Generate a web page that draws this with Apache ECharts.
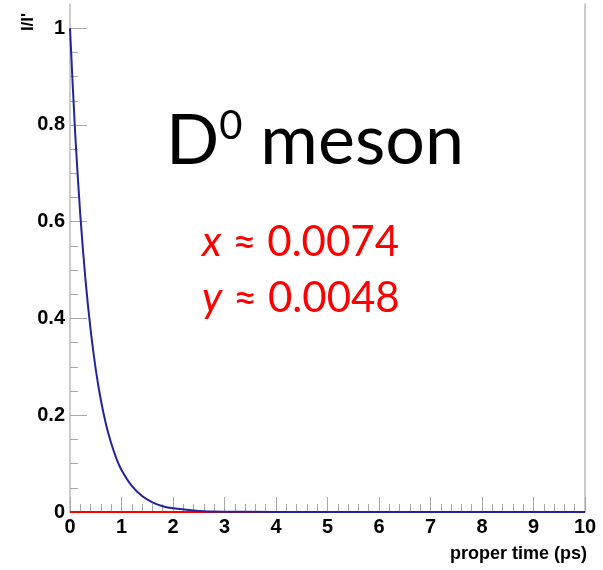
<!DOCTYPE html>
<html>
<head>
<meta charset="utf-8">
<script src="https://cdn.jsdelivr.net/npm/echarts@6/dist/echarts.min.js"></script>
<style>
html, body { margin: 0; padding: 0; background: #fff; }
#chart { width: 603px; height: 570px; }
</style>
</head>
<body>
<div id="chart"></div>
<script>
// proper time (ps) and I/I'
var timePs = [0, 0.1, 0.2, 0.3, 0.4, 0.5, 0.6, 0.7, 0.8, 0.9, 1.0, 1.2, 1.4, 1.6, 1.8, 2.0, 2.5, 3.0, 4.0, 5.0, 10.0];
var ratioD0 = [1.0, 0.784, 0.614, 0.481, 0.377, 0.295, 0.231, 0.181, 0.142, 0.111, 0.087, 0.054, 0.033, 0.020, 0.012, 0.0076, 0.0022, 0.0007, 0.0001, 0, 0];
// red curve, sits on zero over whole range
var mixTime = [0, 10];
var mixValue = [0, 0];

var yMajor = [0, 0.2, 0.4, 0.6, 0.8, 1];
var yMinor = [0.05, 0.1, 0.15, 0.25, 0.3, 0.35, 0.45, 0.5, 0.55, 0.65, 0.7, 0.75, 0.85, 0.9, 0.95];

var titleText = "meson";
var mixX = "0.0074";
var mixY = "0.0048";

var chart = echarts.init(document.getElementById("chart"));

function zip(a, b) {
	var out = [];
	for (var i = 0; i < a.length; i++) out.push([a[i], b[i]]);
	return out;
}

var axisGray = "#bdbdbd";
var tickGray = "#a8a8a8";
var labelFont = {
	color: "#000",
	fontFamily: "Liberation Sans",
	fontWeight: "bold",
	fontSize: 20
};

var option = {
	animation: false,
	grid: { left: 70, right: 18, top: 4, bottom: 58 },
	xAxis: [{
		type: "value",
		min: 0,
		max: 10,
		interval: 1,
		axisLine: { lineStyle: { color: axisGray, width: 1.5 } },
		axisTick: { inside: true, length: 15, lineStyle: { color: tickGray } },
		minorTick: { show: true, splitNumber: 5, length: 8, lineStyle: { color: tickGray } },
		axisLabel: Object.assign({ margin: 5 }, labelFont),
		splitLine: { show: false }
	}],
	yAxis: [{
		type: "value",
		min: 0,
		max: 1.05,
		position: "left",
		axisLine: { show: true, lineStyle: { color: axisGray, width: 1.5 } },
		axisTick: { inside: true, length: 17, customValues: yMajor, lineStyle: { color: tickGray } },
		axisLabel: Object.assign({ margin: 5, customValues: yMajor }, labelFont),
		splitLine: { show: false }
	}, {
		type: "value",
		min: 0,
		max: 1.05,
		position: "left",
		axisLine: { show: false },
		axisTick: { inside: true, length: 8, customValues: yMinor, lineStyle: { color: tickGray } },
		axisLabel: { show: false },
		splitLine: { show: false }
	}, {
		type: "value",
		min: 0,
		max: 1.05,
		position: "right",
		axisLine: { show: true, lineStyle: { color: axisGray, width: 1.5 } },
		axisTick: { show: false },
		axisLabel: { show: false },
		splitLine: { show: false }
	}],
	series: [{
		name: "mix",
		type: "line",
		data: zip(mixTime, mixValue),
		showSymbol: false,
		lineStyle: { color: "#ff0000", width: 2 },
		z: 3
	}, {
		name: "D0",
		type: "line",
		data: zip(timePs, ratioD0),
		smooth: 0.3,
		showSymbol: false,
		lineStyle: { color: "#23239c", width: 2 },
		z: 4
	}],
	graphic: [{
		type: "text",
		x: 28,
		y: 22,
		rotation: Math.PI / 2,
		style: {
			text: "I/I'",
			fontFamily: "Liberation Sans",
			fontWeight: "bold",
			fontSize: 17,
			fill: "#000",
			textAlign: "center",
			textVerticalAlign: "middle"
		}
	}, {
		type: "text",
		right: 16,
		top: 545,
		style: {
			text: "proper time (ps)",
			fontFamily: "Liberation Sans",
			fontWeight: "bold",
			fontSize: 18,
			fill: "#000"
		}
	}, {
		type: "text",
		x: 166,
		y: 106,
		style: {
			text: "D{s|0} " + titleText,
			fontFamily: "Lato",
			fontSize: 70,
			fill: "#000",
			rich: {
				s: { fontFamily: "Lato", fontSize: 40, verticalAlign: "top", fill: "#000", padding: [0, 0, 30, 0] }
			}
		}
	}, {
		type: "text",
		x: 202,
		y: 214,
		style: {
			text: "{i|x} \u2248 " + mixX + "\n{i|y} \u2248 " + mixY,
			fontFamily: "Lato",
			fontSize: 42,
			lineHeight: 56,
			fill: "#ff0000",
			rich: {
				i: { fontFamily: "Lato", fontStyle: "italic", fontSize: 42, lineHeight: 56, fill: "#ff0000" }
			}
		}
	}]
};

chart.setOption(option);
</script>
</body>
</html>
